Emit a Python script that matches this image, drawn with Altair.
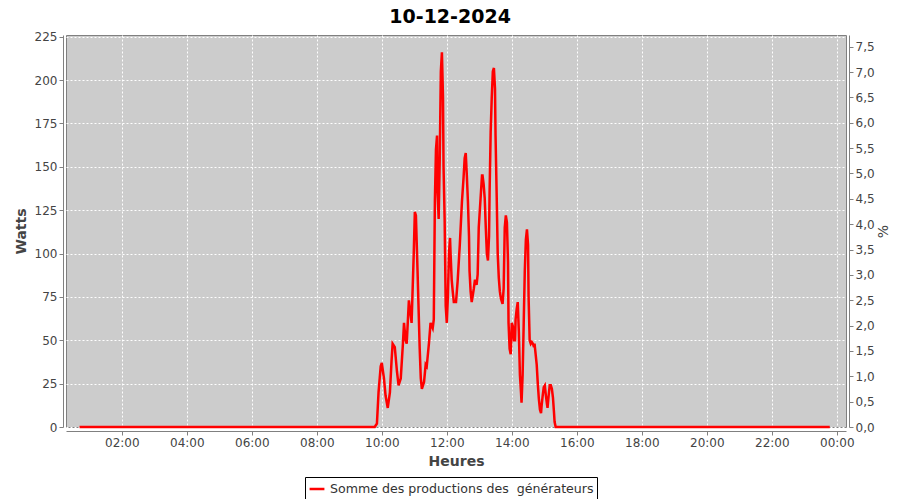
import altair as alt
import pandas as pd

jour = "2024-12-10"
titre = "10-12-2024"
serie = "Somme des productions des\u00a0 générateurs"

heures = [
    "00:42", "09:47", "09:51", "09:54", "09:58", "10:00", "10:04", "10:07", "10:11", "10:15",
    "10:18", "10:20", "10:24", "10:28", "10:31", "10:35", "10:39", "10:41", "10:44", "10:46",
    "10:50", "10:52", "10:55", "10:59", "11:01", "11:03", "11:06", "11:10", "11:12", "11:14",
    "11:18", "11:21", "11:23", "11:27", "11:30", "11:34", "11:36", "11:38", "11:40", "11:42",
    "11:43", "11:45", "11:47", "11:49", "11:51", "11:53", "11:54", "11:56", "11:58", "12:00",
    "12:02", "12:04", "12:06", "12:07", "12:09", "12:11", "12:13", "12:17", "12:20", "12:24",
    "12:28", "12:31", "12:33", "12:35", "12:37", "12:39", "12:41", "12:42", "12:44", "12:46",
    "12:50", "12:52", "12:55", "12:57", "12:59", "13:03", "13:05", "13:06", "13:08", "13:10",
    "13:12", "13:14", "13:16", "13:18", "13:19", "13:21", "13:23", "13:25", "13:27", "13:29",
    "13:30", "13:32", "13:34", "13:36", "13:38", "13:40", "13:43", "13:45", "13:47", "13:49",
    "13:51", "13:53", "13:54", "13:56", "13:58", "14:00", "14:02", "14:04", "14:06", "14:07",
    "14:09", "14:11", "14:13", "14:15", "14:17", "14:18", "14:20", "14:22", "14:24", "14:26",
    "14:28", "14:30", "14:31", "14:33", "14:35", "14:37", "14:39", "14:41", "14:42", "14:44",
    "14:46", "14:48", "14:50", "14:52", "14:54", "14:55", "14:57", "14:59", "15:01", "15:03",
    "15:05", "15:06", "15:08", "15:10", "15:12", "15:14", "15:16", "15:18", "15:19", "15:21",
    "23:47",
]
watts = [
    0, 0, 2, 20, 35, 37, 28, 18, 11, 20,
    38, 48, 46, 32, 24, 28, 48, 60, 50, 48,
    73, 68, 60, 100, 124, 122, 90, 45, 28, 22,
    26, 36, 35, 48, 60, 57, 62, 130, 160, 168,
    135, 120, 155, 205, 216, 190, 150, 120, 70, 60,
    75, 100, 109, 100, 85, 78, 72, 72, 84, 105,
    130, 144, 155, 158, 145, 130, 110, 90, 78, 72,
    80, 85, 82, 88, 115, 135, 145, 145, 140, 132,
    115, 100, 96, 110, 135, 170, 190, 205, 207, 195,
    168, 135, 100, 86, 78, 74, 71, 80, 115, 122,
    118, 95, 60, 45, 42, 60, 58, 50, 50, 62,
    68, 72, 55, 30, 20, 14, 30, 60, 90, 108,
    114, 105, 75, 50, 48, 49, 48, 46, 48, 42,
    36, 25, 16, 10, 8, 12, 18, 23, 24, 18,
    13, 11, 18, 24, 24, 22, 17, 8, 3, 0,
    0,
]
puissance_installee = 2924  # W, pour l'axe des %
y_max = 226
pct_max = 7.73
y_ticks = [0, 25, 50, 75, 100, 125, 150, 175, 200, 225]
pct_ticks = [0, 0.5, 1, 1.5, 2, 2.5, 3, 3.5, 4, 4.5, 5, 5.5, 6, 6.5, 7, 7.5]
x_tick_hours = [2, 4, 6, 8, 10, 12, 14, 16, 18, 20, 22, 24]

df = pd.DataFrame({
    "t": [f"{jour}T{h}:00" for h in heures],
    "watts": watts,
    "serie": [serie] * len(heures),
})

x_vals = [alt.DateTime(year=2024, month=12, date=10 + h // 24, hours=h % 24) for h in x_tick_hours]

x_enc = alt.X(
    "t:T",
    scale=alt.Scale(
        domain=[alt.DateTime(year=2024, month=12, date=10, hours=0, minutes=17),
                alt.DateTime(year=2024, month=12, date=11, hours=0, minutes=17)],
        nice=False,
    ),
    axis=alt.Axis(
        title="Heures", format="%H:%M", values=x_vals,
        grid=True, offset=4, labelPadding=2, titlePadding=6,
    ),
)

line = alt.Chart(df).mark_line(strokeWidth=2.5, color="#FF0000").encode(
    x=x_enc,
    y=alt.Y(
        "watts:Q",
        scale=alt.Scale(domain=[0, y_max], nice=False),
        axis=alt.Axis(title="Watts", values=y_ticks, grid=True, offset=3, titlePadding=6),
    ),
    color=alt.Color(
        "serie:N",
        scale=alt.Scale(range=["#FF0000"]),
        legend=alt.Legend(
            orient="none", legendX=239, legendY=442,
            symbolType="stroke", symbolStrokeWidth=2.5, symbolSize=220,
            labelFontSize=12.6, labelColor="#333333", labelFont="DejaVu Sans",
            strokeColor="#000000", fillColor="#FFFFFF", padding=3, cornerRadius=0,
            labelLimit=400,
        ),
        title=None,
    ),
)

pct_layer = alt.Chart(df).transform_calculate(
    pct=f"datum.watts / {puissance_installee} * 100"
).mark_line(opacity=0).encode(
    x=x_enc,
    y=alt.Y(
        "pct:Q",
        scale=alt.Scale(domain=[0, pct_max], nice=False),
        axis=alt.Axis(
            title="%", orient="right", values=pct_ticks, grid=False, offset=3,
            labelExpr="replace(format(datum.value, '.1f'), '.', ',')",
            titlePadding=16, titleAngle=270, titleFontWeight="normal",
        ),
    ),
)

chart = alt.layer(line, pct_layer).resolve_scale(y="independent").properties(
    width=780,
    height=392,
    background="#FFFFFF",
    autosize=alt.AutoSizeParams(type="none"),
    padding={"left": 58, "top": 27, "right": 46, "bottom": 72},
    title=alt.TitleParams(
        text=titre, fontSize=19, fontWeight="bold", font="DejaVu Sans",
        color="#000000", anchor="middle", frame="bounds", offset=4, dx=-2,
    ),
).configure_view(
    fill="#CCCCCC", stroke="#808080", strokeWidth=1,
).configure_axis(
    labelFont="DejaVu Sans", labelFontSize=12, labelColor="#444444",
    titleFont="DejaVu Sans", titleFontSize=14, titleFontWeight="bold", titleColor="#444444",
    domainColor="#808080", tickColor="#808080", tickSize=4,
    gridColor="#FFFFFF", gridDash=[2, 2], gridWidth=1,
)

chart.save("out.html", embed_options={"renderer": "svg", "actions": False})
